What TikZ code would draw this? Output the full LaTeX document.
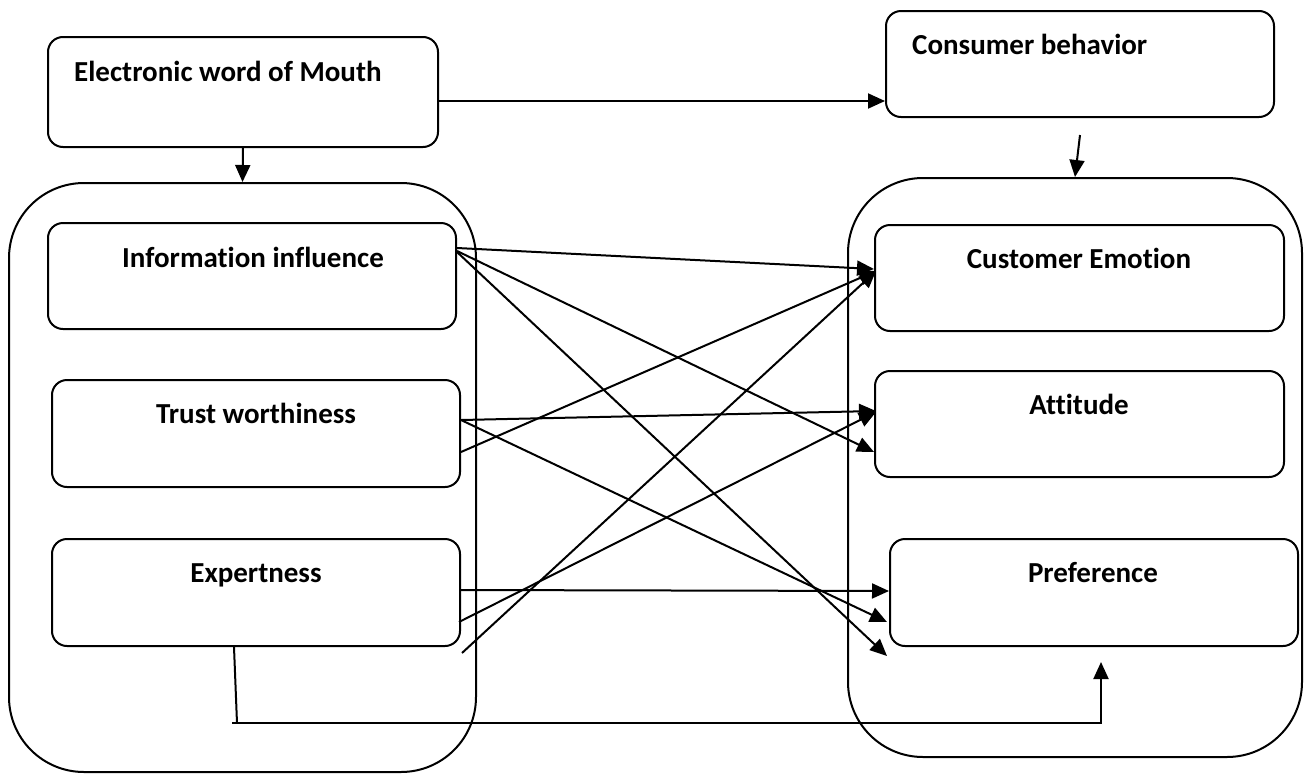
\documentclass[tikz,border=0pt]{standalone}
\usepackage{fontspec}
\setmainfont{Carlito}[Ligatures={NoCommon}]
\usetikzlibrary{arrows.meta,calc}
\begin{document}
\begin{tikzpicture}[x=1pt,y=-1pt,
  ln/.style={line width=2pt,black},
  rbox/.style={ln,draw,rectangle,rounded corners=15pt,inner sep=0pt},
  outerbox/.style={ln,draw,rectangle,rounded corners=75pt,inner sep=0pt},
  lbl/.style={inner sep=0pt,font=\fontsize{29pt}{34pt}\selectfont\bfseries},
  arr/.style={ln,-{Triangle[length=17pt,width=15pt]}},
  con/.style={ln}]
\useasboundingbox (0,0) rectangle (1304,774);
% outer containers
\node[outerbox,minimum width=467pt,minimum height=589pt] (L) at (242.5,477.5) {};
\node[outerbox,minimum width=454pt,minimum height=579pt] (R) at (1075,467.5) {};
% top boxes
\node[rbox,minimum width=390pt,minimum height=110pt] (EW) at (243,92) {};
\node[rbox,minimum width=388pt,minimum height=106pt] (CB) at (1080,64) {};
% left inner boxes
\node[rbox,minimum width=408pt,minimum height=106pt] (II) at (252,276) {};
\node[rbox,minimum width=408pt,minimum height=107pt] (TW) at (256,433.5) {};
\node[rbox,minimum width=408pt,minimum height=107pt] (EX) at (256,592.5) {};
% right inner boxes
\node[rbox,minimum width=409pt,minimum height=106pt] (CE) at (1079.5,278) {};
\node[rbox,minimum width=409pt,minimum height=106pt] (AT) at (1079.5,424) {};
\node[rbox,minimum width=408pt,minimum height=107pt] (PR) at (1094,592.5) {};
% labels
\node[lbl,anchor=base west] (tEW) at (74,81) {Electronic word of Mouth};
\node[lbl,anchor=base west] (tCB) at (912,54) {Consumer behavior};
\node[lbl,anchor=base] (tII) at (253,267) {Information influence};
\node[lbl,anchor=base] (tTW) at (256,423) {Trust worthiness};
\node[lbl,anchor=base] (tEX) at (256,582) {Expertness};
\node[lbl,anchor=base] (tCE) at (1079,268) {Customer Emotion};
\node[lbl,anchor=base] (tAT) at (1079,414) {Attitude};
\node[lbl,anchor=base] (tPR) at (1093,582) {Preference};
% top connectors
\draw[arr] (EW.south) -- (L.north);
\draw[arr] ([yshift=-65pt]EW.north east) -- ([yshift=-91pt]CB.north west);
\draw[arr] ([yshift=-17pt]CB.south) -- (R.north);
% cross connectors
\draw[arr] ([yshift=-26pt]II.north east) -- ([yshift=-45pt]CE.north west);
\draw[arr] ([yshift=-29pt]II.north east) -- ([yshift=-82pt]AT.north west);
\draw[arr] ([yshift=-30pt]II.north east) -- ([xshift=-2pt,yshift=-9pt]PR.south west);
\draw[arr] ([yshift=-41pt]TW.north east) -- ([xshift=2pt,yshift=-41pt]AT.north west);
\draw[arr] ([yshift=-41pt]TW.north east) -- ([xshift=-2pt,yshift=-84pt]PR.north west);
\draw[arr] ([yshift=-73pt]TW.north east) -- ([xshift=2pt,yshift=-47pt]CE.north west);
\draw[arr] ([yshift=-52pt]EX.north east) -- ([yshift=-53pt]PR.north west);
\draw[arr] ([xshift=-2pt,yshift=-84pt]EX.north east) -- ([xshift=2pt,yshift=-42pt]AT.north west);
\draw[arr] ([xshift=1pt,yshift=-6pt]EX.south east) -- ([xshift=2pt,yshift=-47pt]CE.north west);
% bottom connector
\coordinate (c1) at (237,723);
\coordinate (c0) at (232,723);
\coordinate (c2) at (1101,723);
\coordinate (c3) at (1101,662);
\draw[con] ([xshift=-22pt]EX.south) -- (c1);
\draw[arr] (c0) -- (c2) -- (c3);
\end{tikzpicture}
\end{document}
